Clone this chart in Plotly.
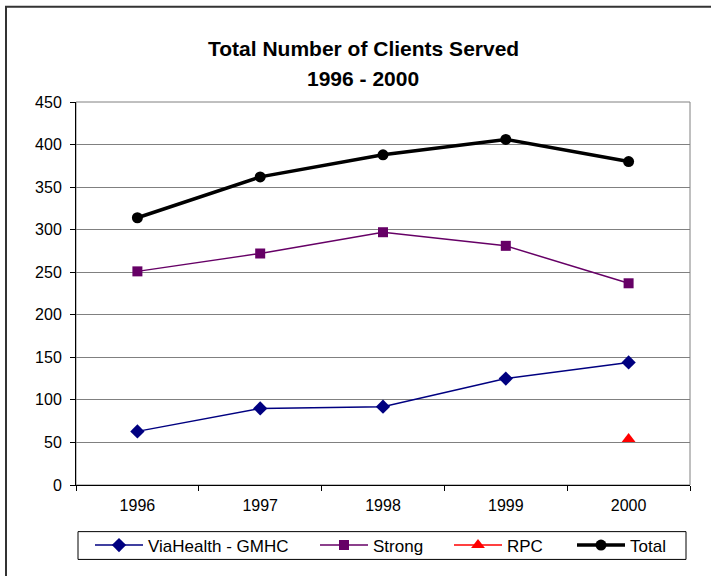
import plotly.graph_objects as go

# ---- data ----
years = ["1996", "1997", "1998", "1999", "2000"]
viahealth = [63, 90, 92, 125, 144]
strong = [251, 272, 297, 281, 237]
rpc = [None, None, None, None, 54]
total = [314, 362, 388, 406, 380]
y_ticks = [0, 50, 100, 150, 200, 250, 300, 350, 400, 450]
series_names = ["ViaHealth - GMHC", "Strong", "RPC", "Total"]
title_line1 = "Total Number of Clients Served"
title_line2 = "1996 - 2000"

# ---- layout geometry (pixels) ----
W, H = 711, 576
L, R, T, B = 76, 21, 102, 88
PW, PH = W - L - R, H - T - B
FONT = "Liberation Sans, Arial, sans-serif"


def px_x(px):
    return (px - L) / PW


def px_y(py):
    return (H - B - py) / PH


fig = go.Figure()

fig.add_trace(go.Scatter(
    x=years, y=viahealth, name=series_names[0], mode="lines+markers",
    line=dict(color="#000080", width=1.5),
    marker=dict(symbol="diamond", size=11, color="#000080"),
    legend="legend"))
fig.add_trace(go.Scatter(
    x=years, y=strong, name=series_names[1], mode="lines+markers",
    line=dict(color="#660066", width=1.5),
    marker=dict(symbol="square", size=10, color="#660066"),
    legend="legend2"))
fig.add_trace(go.Scatter(
    x=years, y=rpc, name=series_names[2], mode="lines+markers",
    line=dict(color="#FF0000", width=1.5),
    marker=dict(symbol="triangle-up", size=12, color="#FF0000"),
    legend="legend3"))
fig.add_trace(go.Scatter(
    x=years, y=total, name=series_names[3], mode="lines+markers",
    line=dict(color="#000000", width=3.5),
    marker=dict(symbol="circle", size=11, color="#000000"),
    legend="legend4"))

ITEMW = 48
leg_common = dict(orientation="h", yanchor="middle", y=px_y(549), xanchor="left",
                  bgcolor="rgba(0,0,0,0)", borderwidth=0, itemwidth=ITEMW,
                  font=dict(family=FONT, size=17, color="#000"))
leg_text_x = [148, 373, 507, 630]
leg_off = ITEMW + 10

fig.update_layout(
    width=W, height=H,
    margin=dict(l=L, r=R, t=T, b=B, pad=0),
    paper_bgcolor="white", plot_bgcolor="white",
    font=dict(family=FONT, size=16, color="#000"),
    showlegend=True,
    legend=dict(leg_common, x=px_x(leg_text_x[0] - leg_off)),
    legend2=dict(leg_common, x=px_x(leg_text_x[1] - leg_off)),
    legend3=dict(leg_common, x=px_x(leg_text_x[2] - leg_off)),
    legend4=dict(leg_common, x=px_x(leg_text_x[3] - leg_off)),
    xaxis=dict(type="category", range=[-0.5, 4.5], tickson="boundaries",
               ticks="outside", ticklen=5, tickcolor="#000", showline=True,
               linecolor="#000", linewidth=1, showgrid=False, zeroline=False,
               ticklabelstandoff=6, tickfont=dict(size=16)),
    yaxis=dict(range=[0, 450], tickvals=y_ticks, ticks="outside", ticklen=5,
               tickcolor="#000", showline=True, linecolor="#000", linewidth=1,
               showgrid=True, gridcolor="#808080", gridwidth=1, zeroline=False,
               ticklabelstandoff=5, tickfont=dict(size=16)),
    shapes=[
        # plot area border
        dict(type="rect", xref="paper", yref="paper", x0=0, x1=1, y0=0, y1=1,
             line=dict(color="#808080", width=1), layer="below"),
        # legend box
        dict(type="rect", xref="paper", yref="paper",
             x0=px_x(78), x1=px_x(686), y0=px_y(563), y1=px_y(535),
             line=dict(color="#000", width=1), fillcolor="rgba(0,0,0,0)"),
        # outer chart frame
        dict(type="rect", xref="paper", yref="paper",
             x0=px_x(6), x1=px_x(900), y0=px_y(900), y1=px_y(6),
             line=dict(color="#333", width=2), fillcolor="rgba(0,0,0,0)"),
    ],
    annotations=[
        dict(text="<b>" + title_line1 + "</b>", xref="paper", yref="paper",
             x=px_x(363), y=px_y(48), xanchor="center", yanchor="middle",
             showarrow=False, font=dict(family=FONT, size=21, color="#000")),
        dict(text="<b>" + title_line2 + "</b>", xref="paper", yref="paper",
             x=px_x(363), y=px_y(78), xanchor="center", yanchor="middle",
             showarrow=False, font=dict(family=FONT, size=21, color="#000")),
    ],
)

fig.write_html("out.html", config={"displayModeBar": False},
               post_script="document.body.style.margin='0';document.body.style.overflow='hidden';")
